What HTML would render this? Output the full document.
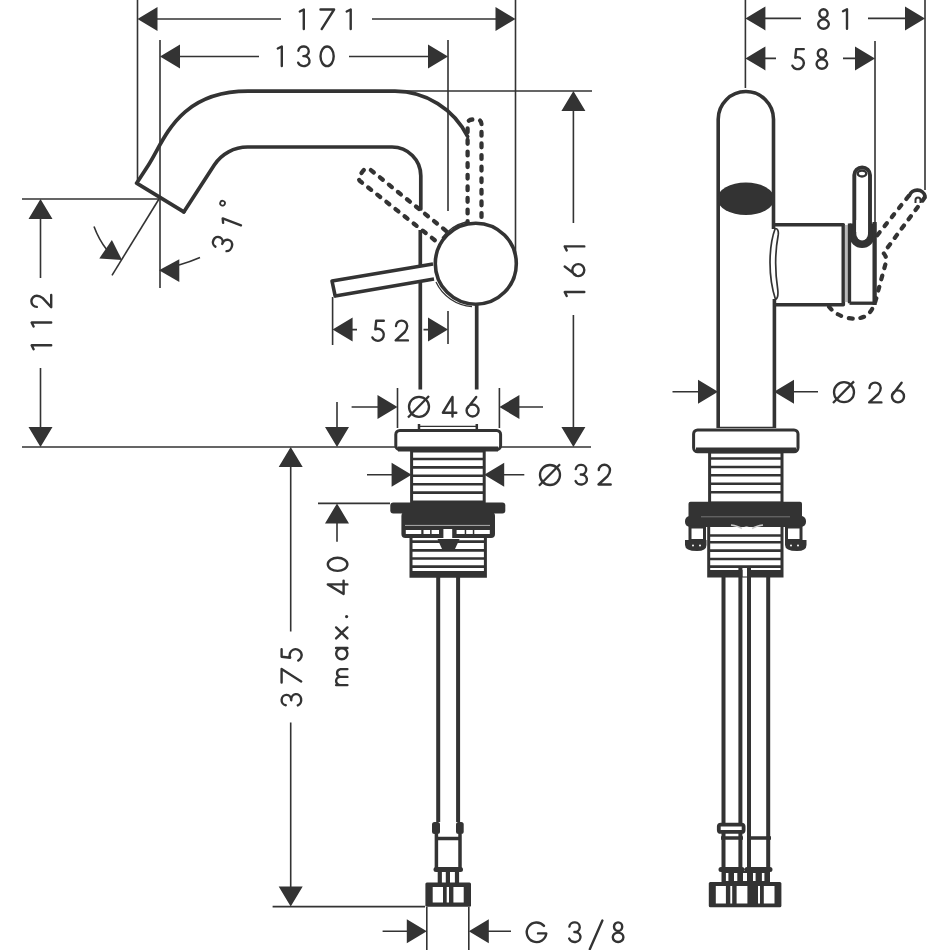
<!DOCTYPE html>
<html><head><meta charset="utf-8">
<style>
html,body{margin:0;padding:0;background:#fff;width:950px;height:950px;overflow:hidden;}
svg{display:block;}
.t{font-family:"Liberation Sans",sans-serif;font-size:30px;fill:#333;letter-spacing:6px;}
</style></head><body>
<svg width="950" height="950" viewBox="0 0 950 950">
<rect x="0" y="0" width="950" height="950" fill="#fff"/>
<g>

<!-- ================= THIN DIMENSION LINES ================= -->
<g id="thin" stroke="#333" stroke-width="1.6" fill="none">
  <!-- 171 -->
  <path d="M137.5 0V183 M515.5 0V262 M150 19H281 M372 19H500"/>
  <!-- 130 -->
  <path d="M160 40V288 M448 40V211 M170 56.5H259 M349 56.5H435"/>
  <!-- 161 -->
  <path d="M395 91H592 M573.4 100V223 M573.4 315V435"/>
  <!-- 112 -->
  <path d="M22 199H159 M40.5 210V278 M40.5 368V435"/>
  <!-- deck -->
  <path d="M22 447H395 M500 447H591"/>
  <!-- 31 deg -->
  <path d="M159 199L112 275.3"/>
  <path d="M94 226.5Q99 240 107 250"/>
  <path d="M179 265Q190 262 200 257.6"/>
  <!-- 52 -->
  <path d="M332.6 297V345 M340 329.6H357 M423.5 329.6H440 M448 311V344"/>
  <!-- 46 -->
  <path d="M397.5 388V428 M499.4 388V428 M351.6 407H385 M510 407H543"/>
  <!-- 32 -->
  <path d="M367 474.7H400 M496 474.7H524.3"/>
  <!-- max 40 -->
  <path d="M318 503.4H390 M337 402V435 M337 515V541.7"/>
  <!-- 375 -->
  <path d="M290.7 460V631.6 M290.7 722.5V895 M272.6 906.6H425"/>
  <!-- G 3/8 -->
  <path d="M426.8 907V950 M468.8 907V950 M382.6 931.2H415 M480 931.2H511"/>
  <!-- 81 / 58 -->
  <path d="M745.4 0V88 M925 0V190 M755 18.4H801 M868 18.4H915"/>
  <path d="M875 41V226 M755 58.4H776 M843 58.4H865"/>
  <!-- 26 -->
  <path d="M672.5 391.7H705 M785 391.7H818"/>
</g>

<!-- ================= ARROWHEADS ================= -->
<g id="arrows" fill="#333" stroke="none">
  <!-- 171 -->
  <path d="M137.5 19l20 -12v24z M515.5 19l-20 -12v24z"/>
  <!-- 130 -->
  <path d="M160 56.5l20 -12v24z M448 56.5l-20 -12v24z"/>
  <!-- 161 -->
  <path d="M573.4 91l-12 20h24z M573.4 447l-12 -20h24z"/>
  <!-- 112 -->
  <path d="M40.5 199l-12 20h24z M40.5 447l-12 -20h24z"/>
  <!-- 52 -->
  <path d="M332.6 329.6l20 -12v24z M448 329.6l-20 -12v24z"/>
  <!-- 46 -->
  <path d="M397.5 407l-20 -12v24z M499.4 407l20 -12v24z"/>
  <!-- 32 -->
  <path d="M411.6 474.7l-20 -12v24z M484.2 474.7l20 -12v24z"/>
  <!-- max 40 -->
  <path d="M337 447l-12 -20h24z M337 503.4l-12 20h24z"/>
  <!-- 375 -->
  <path d="M290.7 447l-12 20h24z M290.7 906.6l-12 -20h24z"/>
  <!-- G 3/8 -->
  <path d="M426.8 931.2l-20 -12v24z M468.8 931.2l20 -12v24z"/>
  <!-- 81 / 58 -->
  <path d="M745.4 18.4l20 -12v24z M925 18.4l-20 -12v24z"/>
  <path d="M745.4 58.4l20 -12v24z M875 58.4l-20 -12v24z"/>
  <!-- 26 -->
  <path d="M718 391.7l-20 -12v24z M774 391.7l20 -12v24z"/>
  <!-- 31 deg arrows -->
  <path d="M122 260L99.3 258.4L111.9 239.9z"/>
  <path d="M159 270.2L179.3 259.3V282z"/>
</g>

<!-- ================= TEXT ================= -->
<g id="texts" fill="none" stroke="#333" stroke-width="2.40" stroke-linecap="round" stroke-linejoin="round">
<path transform="translate(298.80 30.30)" d="M1.0 -18.8L5 -20.8V-1.2"/>
<path transform="translate(319.30 30.30)" d="M1.2 -20.8H14.8L2.4 -1.2"/>
<path transform="translate(345.70 30.30)" d="M1.0 -18.8L5 -20.8V-1.2"/>
<path transform="translate(276.80 67.30)" d="M1.0 -18.8L5 -20.8V-1.2"/>
<path transform="translate(297.00 67.30)" d="M1.4 -16.6A5.2 4.8 0 1 1 6.4 -11.2A5.8 5 0 1 1 1.2 -4.6"/>
<path transform="translate(319.30 67.30)" d="M1.2 -11A6.6 9.8 0 1 1 14.4 -11A6.6 9.8 0 1 1 1.2 -11"/>
<path transform="translate(817.00 30.00)" d="M2.4 -16.5A4.1 4.3 0 1 1 10.6 -16.5A4.1 4.3 0 1 1 2.4 -16.5M1.2 -5.9A5.3 4.7 0 1 1 11.8 -5.9A5.3 4.7 0 1 1 1.2 -5.9"/>
<path transform="translate(842.00 30.00)" d="M1.0 -18.8L5 -20.8V-1.2"/>
<path transform="translate(791.00 69.90)" d="M12.8 -20.8H5.2L4.3 -12.2A6 6 0 1 1 1.4 -4.2"/>
<path transform="translate(815.40 69.90)" d="M2.4 -16.5A4.1 4.3 0 1 1 10.6 -16.5A4.1 4.3 0 1 1 2.4 -16.5M1.2 -5.9A5.3 4.7 0 1 1 11.8 -5.9A5.3 4.7 0 1 1 1.2 -5.9"/>
<path transform="translate(371.00 341.60)" d="M12.8 -20.8H5.2L4.3 -12.2A6 6 0 1 1 1.4 -4.2"/>
<path transform="translate(394.50 341.60)" d="M1.5 -15.6A5.6 5.4 0 0 1 12.7 -15.6Q12.7 -12.6 10.3 -9.6L1.2 -1.2H13.4"/>
<path transform="translate(441.70 417.70)" d="M10.8 -1.2V-20.8L1.2 -5H14.6"/>
<path transform="translate(465.40 417.70)" d="M10.8 -20.8L2.2 -9.6M1.2 -7.2A6 6 0 1 1 13.2 -7.2A6 6 0 1 1 1.2 -7.2"/>
<path transform="translate(574.40 485.70)" d="M1.4 -16.6A5.2 4.8 0 1 1 6.4 -11.2A5.8 5 0 1 1 1.2 -4.6"/>
<path transform="translate(597.30 485.70)" d="M1.5 -15.6A5.6 5.4 0 0 1 12.7 -15.6Q12.7 -12.6 10.3 -9.6L1.2 -1.2H13.4"/>
<path transform="translate(868.00 403.60)" d="M1.5 -15.6A5.6 5.4 0 0 1 12.7 -15.6Q12.7 -12.6 10.3 -9.6L1.2 -1.2H13.4"/>
<path transform="translate(890.80 403.60)" d="M10.8 -20.8L2.2 -9.6M1.2 -7.2A6 6 0 1 1 13.2 -7.2A6 6 0 1 1 1.2 -7.2"/>
<path transform="translate(525.50 943.20)" d="M18.5 -17.3A9.8 9.8 0 1 0 20.8 -9.8H12.5"/>
<path transform="translate(568.00 943.20)" d="M1.4 -16.6A5.2 4.8 0 1 1 6.4 -11.2A5.8 5 0 1 1 1.2 -4.6"/>
<path transform="translate(588.60 943.20)" d="M1.2 6L13.8 -22.6"/>
<path transform="translate(611.60 943.20)" d="M2.4 -16.5A4.1 4.3 0 1 1 10.6 -16.5A4.1 4.3 0 1 1 2.4 -16.5M1.2 -5.9A5.3 4.7 0 1 1 11.8 -5.9A5.3 4.7 0 1 1 1.2 -5.9"/>
<path transform="translate(585.50 297.00) rotate(-90)" d="M1.0 -18.8L5 -20.8V-1.2"/>
<path transform="translate(585.50 277.30) rotate(-90)" d="M10.8 -20.8L2.2 -9.6M1.2 -7.2A6 6 0 1 1 13.2 -7.2A6 6 0 1 1 1.2 -7.2"/>
<path transform="translate(585.50 251.40) rotate(-90)" d="M1.0 -18.8L5 -20.8V-1.2"/>
<path transform="translate(52.40 350.20) rotate(-90)" d="M1.0 -18.8L5 -20.8V-1.2"/>
<path transform="translate(52.40 327.50) rotate(-90)" d="M1.0 -18.8L5 -20.8V-1.2"/>
<path transform="translate(52.40 308.40) rotate(-90)" d="M1.5 -15.6A5.6 5.4 0 0 1 12.7 -15.6Q12.7 -12.6 10.3 -9.6L1.2 -1.2H13.4"/>
<path transform="translate(302.40 706.60) rotate(-90)" d="M1.4 -16.6A5.2 4.8 0 1 1 6.4 -11.2A5.8 5 0 1 1 1.2 -4.6"/>
<path transform="translate(302.40 683.80) rotate(-90)" d="M1.2 -20.8H14.8L2.4 -1.2"/>
<path transform="translate(302.40 662.00) rotate(-90)" d="M12.8 -20.8H5.2L4.3 -12.2A6 6 0 1 1 1.4 -4.2"/>
<path transform="translate(348.60 686.30) rotate(-90)" d="M1.2 -12.5V-1.2M1.2 -8.2A4.1 4.3 0 0 1 9.4 -8.2V-1.2M9.4 -8.2A4 4.3 0 0 1 17.2 -8.2V-1.2"/>
<path transform="translate(348.60 660.40) rotate(-90)" d="M1.2 -6.8A5.4 5.6 0 1 1 12 -6.8A5.4 5.6 0 1 1 1.2 -6.8M12.4 -12.5V-1.2"/>
<path transform="translate(348.60 639.60) rotate(-90)" d="M1.2 -12.5L12.2 -1.2M12.2 -12.5L1.2 -1.2"/>
<circle transform="translate(348.60 618.60) rotate(-90)" cx="2" cy="-2" r="1.6" fill="#333" stroke="none"/>
<path transform="translate(348.60 595.20) rotate(-90)" d="M10.8 -1.2V-20.8L1.2 -5H14.6"/>
<path transform="translate(348.60 572.10) rotate(-90)" d="M1.2 -11A6.6 9.8 0 1 1 14.4 -11A6.6 9.8 0 1 1 1.2 -11"/>
<path transform="translate(230.40 253.90) rotate(-69)" d="M1.4 -16.6A5.2 4.8 0 1 1 6.4 -11.2A5.8 5 0 1 1 1.2 -4.6"/>
<path transform="translate(240.30 230.50) rotate(-69)" d="M1.0 -18.8L5 -20.8V-1.2"/>
<circle transform="translate(239.40 212.40) rotate(-69)" cx="2.5" cy="-19" r="2.4" stroke-width="1.8"/>
</g>
<g stroke="#333" stroke-width="2.3" fill="none">
  <circle cx="419" cy="406.8" r="10"/><path d="M408 417.5L429 396"/>
  <circle cx="550" cy="475" r="10"/><path d="M539 485.7L560 464.3"/>
  <circle cx="844" cy="392.2" r="10"/><path d="M833 403L854 381.4"/>
</g>
<!-- ================= LEFT VIEW (front) ================= -->
<g id="front" stroke="#333" stroke-width="3.7" fill="none" stroke-linejoin="round" stroke-linecap="round">
  <!-- spout outer -->
  <path d="M183.8 211.9L136.6 183.2L148.5 164.9C164.2 140.8 177.7 91.2 248 91.2H395A81.6 81.6 0 0 1 467.6 136.5"/>
  <!-- spout inner -->
  <path d="M183.8 211.9L214.1 165.2A40 40 0 0 1 247.7 147H392A28.8 28.8 0 0 1 420.8 175.8V209"/>
  <path d="M420.3 230V389.5" stroke-linecap="butt"/>
  <path d="M476.7 300V389.5" stroke-linecap="butt"/>
</g>
<!-- dashed levers -->
<g stroke="#333" stroke-width="4.3" fill="none" stroke-dasharray="3.8 7.8" stroke-linecap="round">
  <path d="M467.6 224V124.5Q467.6 119.5 472.6 119.5H476.5Q481.5 119.5 481.5 124.5V224" stroke-dashoffset="1"/>
  <path d="M446 230.8L370.5 169.8Q366.5 166.8 363.5 170.3L359.8 175.2Q357.3 179 360.6 181.5L437.2 242.1"/>
</g>
<g stroke="#333" stroke-width="3.6" fill="#fff" stroke-linejoin="round">
  <path d="M433 264L332 281L335.2 296.1L434 279.1" fill="#fff"/>
  <circle cx="475.8" cy="263.7" r="40.5"/>
</g>
<path d="M436 282A42.5 42.5 0 0 0 472 306.5M442 238A43 43 0 0 1 466 222" stroke="#333" stroke-width="1.3" fill="none"/>

<!-- drain front -->
<g stroke="#333" stroke-width="3" fill="none">
  <path d="M419 424V430 M476.8 424V430" stroke-width="2.5"/>
  <path d="M420 426.3H476" stroke-width="1.2"/>
  <rect x="395.8" y="430.5" width="104.8" height="19" rx="4"/>
  <path d="M398 449H498" stroke-width="5"/>
  <rect x="411.6" y="451" width="72.6" height="51"/>
  <path d="M412 459H484 M412 467.4H484 M412 475.8H484 M412 484.2H484 M412 492.6H484" stroke-width="2.6"/>
</g>
<g fill="#333">
  <rect x="390.3" y="502.5" width="115" height="11.1" rx="3"/>
  <rect x="401.4" y="512" width="93.6" height="26" rx="4"/>
</g>
<g stroke="#fff" fill="none">
  <path d="M405 525.4H490" stroke-width="1" opacity="0.6"/>
  <path d="M405.8 532H421.3 M423.5 532H430.1 M431.6 532H439 M456.6 532H464.7 M466.2 532H472.8 M474.3 532H489.8" stroke-width="4"/>
</g>
<rect x="443.4" y="529" width="8.8" height="10" fill="#fff"/>
<g stroke="#333" stroke-width="3" fill="none">
  <path d="M411 536V576.2H485.4V536"/>
  <path d="M412 541.6H485 M412 550.4H485 M412 558.5H485 M412 566.6H485" stroke-width="2.6"/>
  <path d="M412 573.5H485" stroke-width="5"/>
</g>
<path d="M437.5 539H459.6L455 549H442z" fill="#333"/>
<g stroke="#333" stroke-width="4" fill="none">
  <path d="M438.2 576V822 M458.1 576V822"/>
  <path d="M436.4 834V870 M460 834V870" stroke-width="3.5"/>
  <path d="M437 838.5H459.5" stroke-width="3.5"/>
  <path d="M436 869.5H460.5" stroke-width="5" stroke-linecap="round"/>
  <path d="M439.8 872V883 M447.9 872V883 M457 872V883" stroke-width="4.2"/>
</g>
<g fill="#333">
  <rect x="432" y="822" width="8" height="12" rx="2.5"/>
  <rect x="456" y="822" width="7.7" height="12" rx="2.5"/>
  <rect x="425.4" y="882.5" width="45.6" height="24.3" rx="1.5"/>
</g>
<g fill="#fff">
  <rect x="432.7" y="887" width="10.3" height="15.5"/>
  <rect x="453.4" y="887" width="10.3" height="15.5"/>
  <rect x="446.7" y="887" width="2.3" height="15.5"/>
</g>

<!-- ================= RIGHT VIEW (side) ================= -->
<g stroke="#333" stroke-width="3.6" fill="none" stroke-linejoin="round">
  <path d="M718.2 428V119.2A27.4 27.4 0 0 1 773.5 119.2V229"/>
  <path d="M774.4 299V428"/>
  <path d="M773 224.7H843.3V304.7H773"/>
</g>
<ellipse cx="745.8" cy="198.8" rx="28.4" ry="16.2" fill="#333"/>
<!-- break line -->
<path d="M775.2 228.5C769 245 767.5 275 775.5 299.5C778.5 298 778.2 294 777.8 290C775 272 775 252 778.2 235C778.8 231 777.5 228.3 775.2 228.5Z" stroke="#333" stroke-width="1.7" fill="#fff"/>
<!-- lever side -->
<rect x="844.8" y="225" width="3.4" height="77" fill="#bbb"/>
<path d="M849.5 223.5H874.6V236A12.55 12 0 0 1 849.5 236Z" fill="#333"/>
<g stroke="#333" stroke-width="3.3" fill="none">
  <path d="M849.5 223.5V303.2 M874.6 223.5V303.2" />
  <path d="M849.5 303.2H874.6"/>
</g>
<path d="M874.6 222V305" stroke="#333" stroke-width="4.2"/>
<path d="M854.3 232V175A7.85 7.6 0 0 1 870 175V232" stroke="#333" stroke-width="3.9" fill="#fff"/>
<path d="M856.3 220V234A5.85 6.5 0 0 0 868 234V220Z" fill="#fff"/>
<ellipse cx="862" cy="173.5" rx="4.3" ry="3" stroke="#333" stroke-width="2.4" fill="none"/>
<g stroke="#333" stroke-width="4.2" fill="none" stroke-dasharray="3.8 7.8" stroke-linecap="round">
  <path d="M877.3 235.2L909.5 194.9"/>
  <path d="M924.7 197.6L883.5 253Q887 257 886 262L877.3 294Q874 310 866.5 315.7Q858 320 848 318Q835 315 829 306.7"/>
</g>
<path d="M909.5 195.5A8 7.5 0 0 1 925 196" stroke="#333" stroke-width="3.6" fill="none" stroke-linecap="round"/>
<path d="M915.5 203V200A2.5 2.6 0 0 1 920.5 200V203" stroke="#333" stroke-width="2" fill="none"/>

<!-- side drain -->
<g stroke="#333" stroke-width="3" fill="none">
  <path d="M719 427.3H774" stroke-width="1.2"/>
  <rect x="693.6" y="429.9" width="104.4" height="21.9" rx="4"/>
  <path d="M696 450H796" stroke-width="5"/>
  <rect x="709.6" y="452" width="72.4" height="51"/>
  <path d="M710 458.5H782 M710 467H782 M710 475.3H782 M710 483.7H782 M710 492.2H782" stroke-width="2.6"/>
</g>
<g fill="#333">
  <rect x="688.5" y="501.8" width="113.5" height="16" rx="2"/>
  <rect x="685" y="516" width="121" height="11" rx="5"/>
  <path d="M685 540H706.5V545Q706.5 551 697 551Q685 551 685 545Z"/>
  <path d="M785 540H806.5V545Q806.5 551 797 551Q785 551 785 545Z"/>
</g>
<g stroke="#333" stroke-width="3" fill="none">
  <rect x="690" y="527" width="14.5" height="13.5"/>
  <rect x="786.5" y="527" width="14.5" height="13.5"/>
  <path d="M708.7 527V576H782V527"/>
  <path d="M709 535.5H782 M709 542.2H782 M709 550.6H782 M709 559H782 M709 566.6H782" stroke-width="2.6"/>
  <path d="M709 572.5H782" stroke-width="5"/>
</g>
<path d="M701 516.8H790" stroke="#888" stroke-width="0.8"/>
<path d="M731 525Q738 526 742 528.5M752 528.5Q756 526 763 525" stroke="#ccc" stroke-width="1.6" fill="none"/>
<path d="M742.5 530.5A4 4 0 0 1 750.5 530.5V534H742.5Z" fill="#fff"/>
<g fill="#fff"><circle cx="693" cy="545.5" r="1"/><circle cx="700" cy="545.5" r="1"/><circle cx="791" cy="545.5" r="1"/><circle cx="798" cy="545.5" r="1"/></g>
<rect x="742.5" y="568.5" width="4.5" height="8" fill="#fff"/>
<g stroke="#333" stroke-width="4" fill="none">
  <path d="M723.5 576V872 M740.4 568V872 M749 568V872 M768.2 576V872"/>
  <rect x="718.8" y="824.6" width="24.8" height="7.3" rx="2" stroke-width="3.8" fill="#fff"/>
  <path d="M721 838H743 M747 838H771" stroke-width="3.5"/>
  <path d="M721 869.5H742 M747 869.5H770" stroke-width="5" stroke-linecap="round"/>
</g>
<g fill="#333">
  <rect x="721.5" y="871" width="48.5" height="12"/>
  <rect x="708.8" y="882" width="72.6" height="25.3" rx="1.5"/>
</g>
<g fill="#fff">
  <rect x="725.9" y="873" width="2.5" height="8"/>
  <rect x="734" y="873" width="3.3" height="8"/>
  <rect x="743" y="873" width="4" height="8"/>
  <rect x="753" y="873" width="2.6" height="8"/>
  <rect x="761.9" y="873" width="2.5" height="8"/>
  <rect x="715.8" y="886" width="10.1" height="17.5"/>
  <rect x="736.6" y="886" width="10.8" height="17.5"/>
  <rect x="763.8" y="886" width="10.7" height="17.5"/>
  <rect x="730.3" y="886" width="1.9" height="17.5"/>
  <rect x="758" y="886" width="2" height="17.5"/>
</g>
</g><!--endsoft-->
</svg>
</body></html>
